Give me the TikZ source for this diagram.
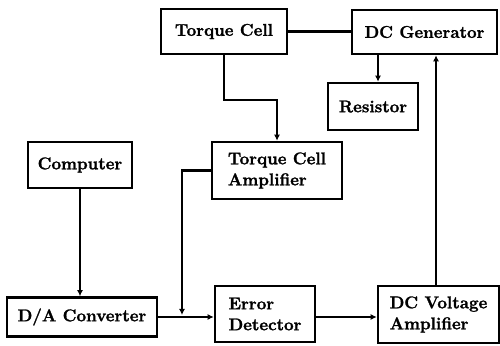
\documentclass[tikz,border=0pt]{standalone}
\usepackage{fontspec}
\newfontfamily\lab{Latin Modern Roman}[BoldFeatures={FakeBold=1.6}]
\usetikzlibrary{arrows.meta,calc}
\begin{document}
\begin{tikzpicture}[x=1pt,y=1pt,
  blk/.style={draw,line width=2.6pt,inner sep=0pt,align=left,
    font=\fontsize{17}{21}\lab\bfseries},
  conn/.style={line width=2.2pt},
  arr/.style={conn,-{Latex[length=6pt,width=6pt]}}]
\useasboundingbox (0,0) rectangle (500,345);
\node[blk,minimum width=126pt,minimum height=45pt] (TC) at (224,313.5) {Torque Cell};
\node[blk,minimum width=145pt,minimum height=44pt] (DCG) at (424.5,313) {DC Generator};
\node[blk,minimum width=90pt,minimum height=47pt] (RES) at (373,238.5) {Resistor};
\node[blk,minimum width=104pt,minimum height=46pt] (COMP) at (80,180) {Computer};
\node[blk,minimum width=130pt,minimum height=57pt] (TCA) at (277,174.5) {Torque Cell\\Amplifier};
\node[blk,minimum width=150pt,minimum height=39pt] (DA) at (82,28) {D/A Converter};
\node[blk,minimum width=100pt,minimum height=56pt] (ED) at (265,31) {Error\\Detector};
\node[blk,minimum width=121pt,minimum height=57pt] (DCVA) at (438.5,30.5) {DC Voltage\\Amplifier};
\coordinate (k1) at (224,245);
\coordinate (j) at (182,30);
% connectors
\draw[conn] (TC.east) -- (TC.east -| DCG.west);
\draw[arr] (TC.south) -- (k1) -| (TCA.north);
\draw[arr] ([xshift=5pt]RES.north |- DCG.south) -- ([xshift=5pt]RES.north);
\draw[arr] ([xshift=-2.5pt]DCVA.north) -- ([xshift=-2.5pt]DCVA.north |- DCG.south);
\draw[arr] (COMP.south) -- (COMP.south |- DA.north);
\draw[arr] (DA.east) -- (DA.east -| ED.west);
\draw[arr] (DA.east -| ED.east) -- (DA.east -| DCVA.west);
\draw[arr] (TCA.west) -| (j);
\end{tikzpicture}
\end{document}
